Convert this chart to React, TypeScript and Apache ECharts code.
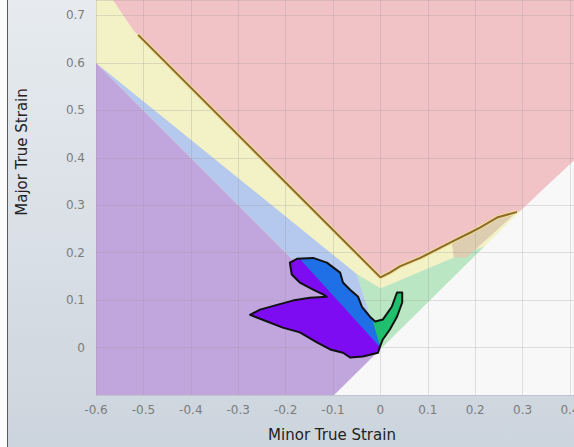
import React, { useEffect, useRef } from "react";
import * as echarts from "echarts";

// Axis ranges
const X_MIN = -0.6;
const X_MAX = 0.4084;
const Y_MIN = -0.1;
const Y_MAX = 0.7326;
const TICK_STEP = 0.1;

// Forming limit curve (minor, major)
const FLC_LEFT = [[-0.511, 0.659], [0, 0.148]];
const FLC_RIGHT = [
  [0, 0.148], [0.02, 0.158], [0.041, 0.171], [0.084, 0.189], [0.147, 0.221],
  [0.189, 0.242], [0.21, 0.253], [0.246, 0.274], [0.288, 0.286],
];

// Zone boundaries
const PINK_TOP_EDGE = [[-0.7, 0.8], [-0.61, 0.8], [-0.52, 0.667]];
const ZONE_PINK = [[-0.7, -0.3], [0.5, -0.3], [0.5, 0.8], [-0.7, 0.8]];
const ZONE_YELLOW_TAIL = [[0.5, 0.286], [0.5, -0.3], [-0.7, -0.3]];
const ZONE_GREEN = [[-0.05, 0.155], [0, 0.125], [0.02, 0.133], [0.155, 0.19], [0.35, 0.26], [0.35, 0], [0, 0]];
const ZONE_BLUE = [[-0.6, 0.6], [-0.05, 0.155], [0, 0]];
const ZONE_PURPLE = [[-0.7, 0.7], [0, 0], [0, -0.3], [-0.7, -0.3]];
const ZONE_WHITE = [[-0.3, -0.3], [0.29, 0.283], [0.35, 0.34], [0.5, 0.48], [0.5, -0.3]];
const ZONE_TAN = [[0.15, 0.224], [0.155, 0.19], [0.182, 0.19], [0.288, 0.286], [0.246, 0.274], [0.21, 0.253], [0.189, 0.242]];

// Measured strain cloud outline
const BLOB = [
  [-0.275, 0.069], [-0.239, 0.055], [-0.206, 0.042], [-0.17, 0.032], [-0.134, 0.011],
  [-0.106, -0.004], [-0.079, -0.011], [-0.064, -0.021], [-0.037, -0.019], [-0.005, -0.011],
  [-0.001, 0.002], [0.005, 0.017], [0.02, 0.038], [0.035, 0.065], [0.046, 0.095],
  [0.046, 0.116], [0.035, 0.116], [0.024, 0.086], [0.005, 0.059], [-0.011, 0.055],
  [-0.022, 0.065], [-0.039, 0.086], [-0.047, 0.107], [-0.064, 0.122], [-0.079, 0.137],
  [-0.085, 0.158], [-0.113, 0.179], [-0.142, 0.189], [-0.176, 0.187], [-0.191, 0.179],
  [-0.187, 0.154], [-0.17, 0.137], [-0.142, 0.122], [-0.121, 0.112], [-0.113, 0.107],
  [-0.149, 0.105], [-0.185, 0.099], [-0.218, 0.09], [-0.254, 0.08],
];
// Zone split lines inside the cloud
const PURPLE_SLOPE = -1.1; // boundary y = -1.1 x
const GREEN_LINE = [[-0.016, 0.055], [-0.005, 0.017]];

type Pt = number[];
function clipPoly(poly: Pt[], f: (p: Pt) => number): Pt[] {
  const out: Pt[] = [];
  const n = poly.length;
  for (let i = 0; i < n; i++) {
    const cur = poly[i];
    const prev = poly[(i + n - 1) % n];
    const fc = f(cur);
    const fp = f(prev);
    const inter = () => {
      const t = fp / (fp - fc);
      return [prev[0] + t * (cur[0] - prev[0]), prev[1] + t * (cur[1] - prev[1])];
    };
    if (fc >= 0) {
      if (fp < 0) out.push(inter());
      out.push(cur);
    } else if (fp >= 0) {
      out.push(inter());
    }
  }
  return out;
}

const purpleF = (p: Pt) => PURPLE_SLOPE * p[0] - p[1];
const greenF = (p: Pt) => {
  const [a, b] = GREEN_LINE;
  const k = (b[0] - a[0]) / (a[1] - b[1]);
  return p[0] - (a[0] + (a[1] - p[1]) * k);
};

const fmtTick = (v: number, hideNeg: boolean) => {
  const r = Math.round(v * 10);
  if (Math.abs(v * 10 - r) > 1e-6) return "";
  if (hideNeg && r < 0) return "";
  if (r === 0) return "0";
  return (r / 10).toFixed(1);
};

export default function App() {
  const ref = useRef<HTMLDivElement>(null);
  useEffect(() => {
    if (!ref.current) return;
    const chart = echarts.init(ref.current, undefined, { renderer: "svg" });

    const zoneYellow = [...PINK_TOP_EDGE, ...FLC_LEFT, ...FLC_RIGHT.slice(1), ...ZONE_YELLOW_TAIL];
    const zones = [
      { pts: ZONE_PINK, color: "#f1c3c7" },
      { pts: zoneYellow, color: "#f3f1c6" },
      { pts: ZONE_GREEN, color: "#bae6c4" },
      { pts: ZONE_BLUE, color: "#b5c9ee" },
      { pts: ZONE_PURPLE, color: "#c1a6de" },
      { pts: ZONE_WHITE, color: "#f8f8f8" },
      { pts: ZONE_TAN, color: "#ddcdb1" },
    ];

    const purplePart = clipPoly(BLOB, purpleF);
    const greenPart = clipPoly(clipPoly(BLOB, greenF), (p) => -purpleF(p));
    const blobs = [
      { pts: BLOB, fill: "#1f70e6", stroke: "none" },
      { pts: purplePart, fill: "#7d0cf2", stroke: "none" },
      { pts: greenPart, fill: "#1fbf6d", stroke: "none" },
      { pts: BLOB, fill: "none", stroke: "#111111" },
    ];

    const labelStyle = {
      color: "#7c7c7c",
      fontSize: 12,
      fontFamily: "DejaVu Sans",
    };
    const splitStyle = { lineStyle: { color: "rgba(150,150,150,0.28)", width: 1 } };

    chart.setOption({
      animation: false,
      backgroundColor: "transparent",
      grid: { left: 96, right: 0, top: 0, bottom: 52, containLabel: false, outerBoundsMode: "none" },
      xAxis: {
        type: "value",
        min: X_MIN,
        max: X_MAX,
        interval: TICK_STEP,
        z: 3,
        axisLine: { show: false },
        axisTick: { show: false },
        splitLine: splitStyle,
        axisLabel: { ...labelStyle, margin: 9, formatter: (v: number) => fmtTick(v, false) },
      },
      yAxis: {
        type: "value",
        min: Y_MIN,
        max: Y_MAX,
        interval: TICK_STEP,
        z: 3,
        axisLine: { show: false },
        axisTick: { show: false },
        splitLine: splitStyle,
        axisLabel: { ...labelStyle, margin: 11, formatter: (v: number) => fmtTick(v, true) },
      },
      graphic: [
        { type: "rect", left: 0, top: 0, shape: { width: 7, height: 447 }, style: { fill: "#fbfbfc" } },
        { type: "line", shape: { x1: 7.5, y1: 0, x2: 7.5, y2: 447 }, style: { stroke: "#5a5a5a", lineWidth: 1 } },
        {
          type: "text",
          x: 22,
          y: 152,
          rotation: Math.PI / 2,
          style: {
            text: "Major True Strain",
            fontSize: 15,
            fontFamily: "DejaVu Sans",
            fill: "#222222",
            align: "center",
            verticalAlign: "middle",
            textAlign: "center",
            textVerticalAlign: "middle",
          },
        },
        {
          type: "text",
          x: 332,
          y: 435,
          style: {
            text: "Minor True Strain",
            fontSize: 15,
            fontFamily: "DejaVu Sans",
            fill: "#222222",
            align: "center",
            verticalAlign: "middle",
            textAlign: "center",
            textVerticalAlign: "middle",
          },
        },
      ],
      series: [
        {
          type: "custom",
          z: 1,
          clip: true,
          silent: true,
          data: zones.map((zn) => zn.pts[0]),
          renderItem: (params: any, api: any) => {
            const zn = zones[params.dataIndex];
            return {
              type: "polygon",
              shape: { points: zn.pts.map((p) => api.coord(p)) },
              style: { fill: zn.color },
            };
          },
        },
        {
          type: "line",
          z: 4,
          silent: true,
          showSymbol: false,
          data: [...FLC_LEFT, ...FLC_RIGHT.slice(1)],
          lineStyle: { color: "rgba(240,225,150,0.9)", width: 4 },
        },
        {
          type: "line",
          z: 5,
          silent: true,
          showSymbol: false,
          data: [...FLC_LEFT, ...FLC_RIGHT.slice(1)],
          lineStyle: { color: "#8e6a2c", width: 2 },
        },
        {
          type: "custom",
          z: 6,
          clip: true,
          silent: true,
          data: blobs.map((b) => b.pts[0]),
          renderItem: (params: any, api: any) => {
            const b = blobs[params.dataIndex];
            return {
              type: "polygon",
              shape: { points: b.pts.map((p) => api.coord(p)) },
              style: {
                fill: b.fill,
                stroke: b.stroke,
                lineWidth: b.stroke === "none" ? 0 : 2,
                lineJoin: "round",
              },
            };
          },
        },
      ],
    });
    return () => chart.dispose();
  }, []);

  return (
    <div
      style={{
        position: "fixed",
        left: 0,
        top: 0,
        width: 574,
        height: 447,
        background: "linear-gradient(180deg, #e7ebef 0%, #d9dfe6 55%, #ccd4dd 100%)",
      }}
    >
      <div ref={ref} style={{ width: 574, height: 447 }} />
    </div>
  );
}
